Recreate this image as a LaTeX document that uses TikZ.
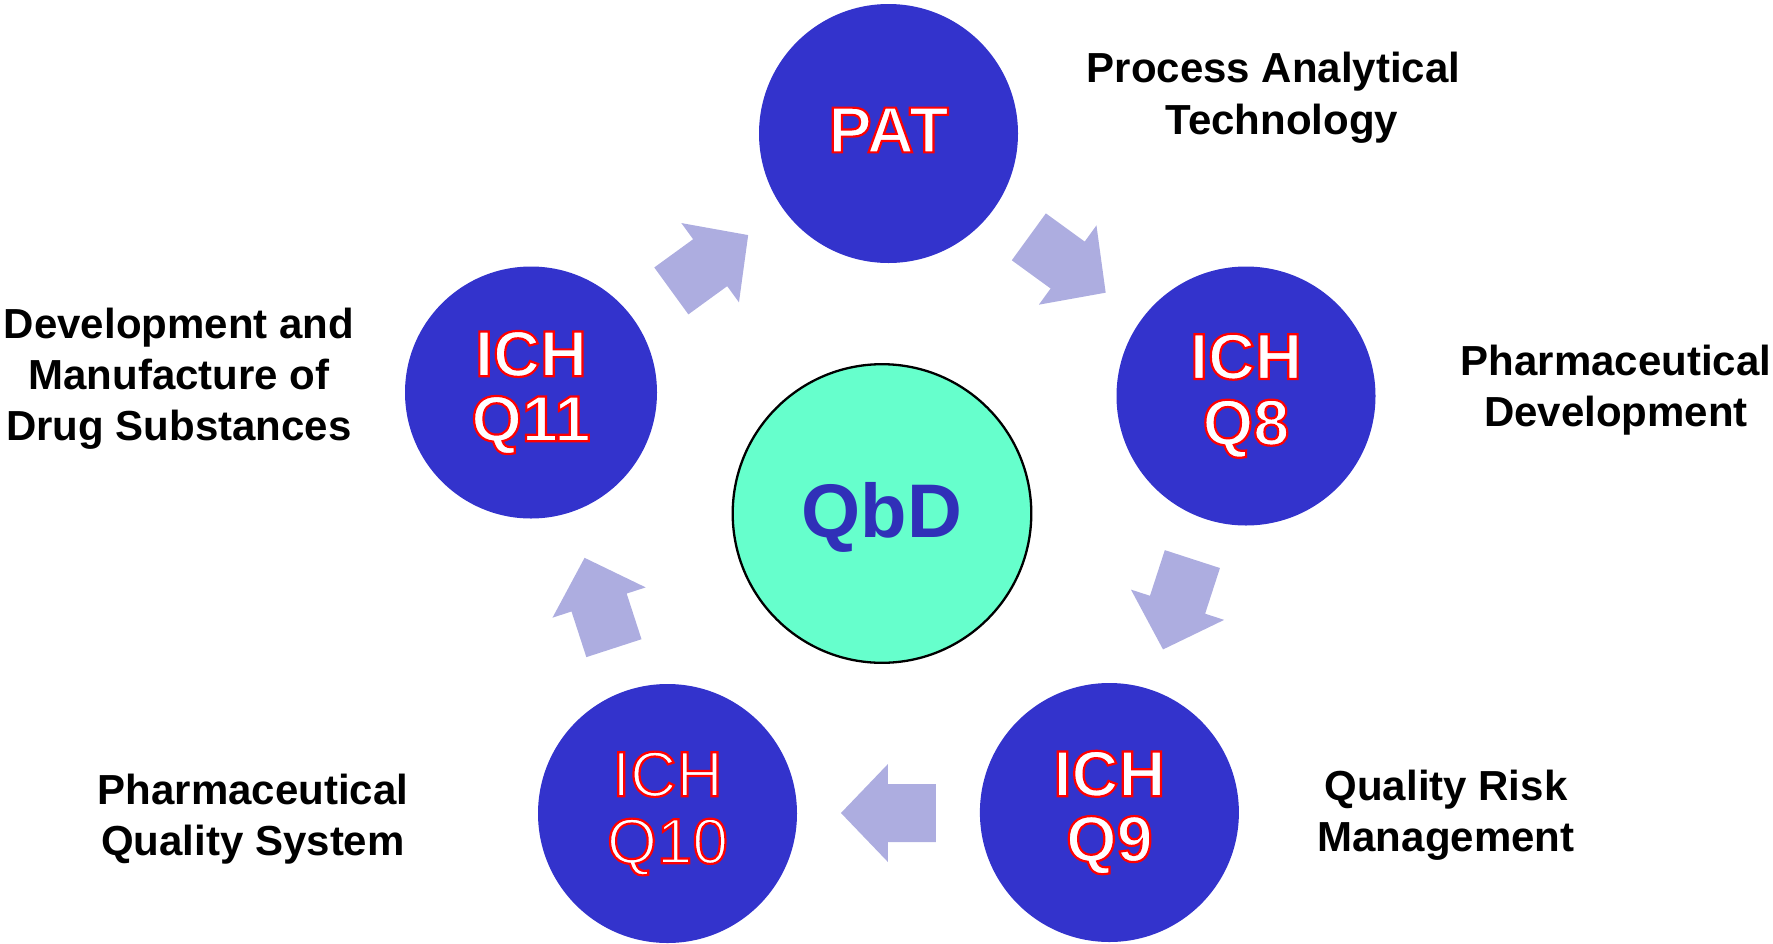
\documentclass[tikz,border=0pt]{standalone}
\usepackage{fontspec}
\setmainfont{Liberation Sans}
\usetikzlibrary{calc}

\definecolor{discblue}{RGB}{51,51,204}
\definecolor{arrowlav}{RGB}{173,173,224}
\definecolor{qbdfill}{RGB}{102,255,204}
\definecolor{qbdtext}{RGB}{48,48,184}

% white glyphs with a thin red contour (PDF text render mode 2 = fill + stroke)
\newcommand\redoutline[1]{\special{pdf:literal direct 2 Tr 2.2 w 1 0 0 RG}#1\special{pdf:literal direct 0 Tr}}
% invisible depth used to centre the text block vertically in a disc
\newcommand\dropby[1]{\rule[-#1pt]{0pt}{#1pt}}

\begin{document}
\begin{tikzpicture}[x=1pt,y=-1pt,
  disc/.style={circle, fill=discblue, inner sep=0pt, text=white, align=center,
    minimum size=259, font=\fontsize{65}{66}\selectfont\bfseries},
  % multi-line captions: the base anchor sits on the baseline of the last line
  lab/.style={align=center, anchor=base, inner sep=0pt,
    font=\fontsize{42}{51}\selectfont\bfseries},
  blockarrow/.pic={\fill[arrowlav] (-47.5,-29) -- (0.5,-29) -- (0.5,-49) -- (47.5,0)
    -- (0.5,49) -- (0.5,29) -- (-47.5,29) -- cycle;}
]
\useasboundingbox (0,0) rectangle (1773,943);

% central disc
\node[circle, draw=black, line width=2.3pt, fill=qbdfill, minimum size=298.6, inner sep=0pt,
  text=qbdtext, font=\fontsize{76}{80}\selectfont\bfseries] (qbd) at (882,513.5)
  {\rule{0pt}{63pt}QbD\dropby{4.6}};

% outer ring of guidelines
\node[disc] (pat) at (888.5,133.5) {\redoutline{PAT}\dropby{7}};
\node[disc] (q8) at (1246,396) {\redoutline{ICH}\\\redoutline{Q8}\dropby{13.3}};
\node[disc, font=\fontsize{65}{65.3}\selectfont\bfseries] (q9) at (1109.4,812.5)
  {\redoutline{ICH}\\\redoutline{Q9}\dropby{5.6}};
\node[disc, font=\fontsize{64}{67}\selectfont] (q10) at (667.5,813.5)
  {\redoutline{ICH}\\\redoutline{Q10}\dropby{8}};
\node[disc, minimum size=252, font=\fontsize{65}{65}\selectfont\bfseries] (q11) at (531,392.5)
  {\redoutline{ICH}\\\redoutline{Q11}\dropby{7.3}};

% block arrows running clockwise between neighbouring discs
\pic[rotate=36] at ($(q11)!0.5!(pat)$) {blockarrow};
\pic[rotate=-36] at ($(pat)!0.5!(q8)$) {blockarrow};
\pic[rotate=-108] at ($(q8)!0.5!(q9)$) {blockarrow};
\pic[rotate=180] at ($(q9)!0.5!(q10)$) {blockarrow};
\pic[rotate=108] at ($(q10)!0.5!(q11)$) {blockarrow};

% captions
\node[lab, font=\fontsize{42}{52}\selectfont\bfseries] (patlab) at (1273.5,134.5)
  {Process Analytical\\\kern17pt Technology};
\node[lab] (q8lab) at (1616,426) {Pharmaceutical\\Development};
\node[lab] (q9lab) at (1446,851.7) {Quality Risk\\Management};
\node[lab] (q10lab) at (253,855) {Pharmaceutical\\Quality System};
\node[lab] (q11lab) at (179,440) {Development and\\Manufacture of\\Drug Substances};
\end{tikzpicture}
\end{document}
